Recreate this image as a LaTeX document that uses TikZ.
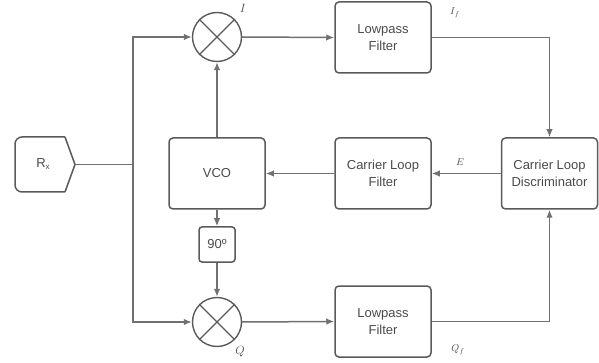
\documentclass[tikz,border=0pt]{standalone}
\usepackage{fontspec}
\setmainfont{Liberation Sans}
\usepackage{amsmath}
\usetikzlibrary{arrows.meta}
\definecolor{linegray}{HTML}{707070}
\definecolor{boxgray}{HTML}{5A5A5A}
\definecolor{txtgray}{HTML}{4A4A4A}

\begin{document}
\begin{tikzpicture}[x=1pt,y=-1pt,
		block/.style={draw=boxgray, line width=1.5pt, rounded corners=4pt, minimum width=96pt, minimum height=71pt, align=center, text=txtgray, font=\fontsize{13}{17}\selectfont, inner sep=0pt},
		mixer/.style={draw=boxgray, line width=1.4pt, circle, minimum size=49pt, inner sep=0pt},
		wire/.style={draw=linegray, line width=1.5pt},
		lbl/.style={text=txtgray}]
		\tikzset{>={Latex[length=8pt,width=6.5pt]}}
		\useasboundingbox (0,0) rectangle (599,363);
		% receiver input
		\draw[draw=boxgray, line width=1.5pt, rounded corners=7pt] (65,192) -- (15,192) -- (15,137) -- (65,137);
		\draw[draw=boxgray, line width=1.5pt, line join=round] (65,137) -- (75,164.5) -- (65,192);
		\node[text=txtgray, font=\fontsize{13}{15}\selectfont] (rx) at (43,164.5) {R\raisebox{-2pt}{\fontsize{8}{9}\selectfont x}};
		\coordinate (rxout) at (75,164.5);
		\coordinate (split) at (133,164.5);
		% mixers
		\node[mixer] (mixI) at (217,37) {};
		\node[mixer] (mixQ) at (217,322) {};
		\foreach \m in {mixI,mixQ}{
			\draw[draw=boxgray, line width=1.4pt] (\m.45) -- (\m.225) (\m.135) -- (\m.315);
		}
		\node[lbl, font=\large] at (243,8) {$I$};
		\node[lbl, font=\large] at (240,352) {$Q$};
		% blocks
		\node[block] (lpfI) at (383,37.5) {Lowpass\\Filter};
		\node[block] (lpfQ) at (383,321.5) {Lowpass\\Filter};
		\node[block] (disc) at (549.5,173.5) {Carrier Loop\\Discriminator};
		\node[block] (clf) at (383,173.5) {Carrier Loop\\Filter};
		\node[block] (vco) at (217,173.5) {VCO};
		\node[block, minimum width=36pt, minimum height=35pt, rounded corners=3pt] (shift) at (217,244.5) {90º};
		% connectors
		\draw[wire] (rxout) -- (split);
		\draw[wire,->] (split) |- (mixI.west);
		\draw[wire,->] (split) |- (mixQ.west);
		\draw[wire,->] (vco.north) -- (mixI.south);
		\draw[wire,->] (mixI.east) -- (lpfI.west);
		\draw[wire,->] (mixQ.east) -- (lpfQ.west);
		\draw[wire,->] (lpfI.east) -| (disc.north);
		\draw[wire,->] (lpfQ.east) -| (disc.south);
		\draw[wire,->] (disc.west) -- (clf.east);
		\draw[wire,->] (clf.west) -- (vco.east);
		\draw[wire,->] (vco.south) -- (shift.north);
		\draw[wire,->] (shift.south) -- (mixQ.north);
		\node[lbl] at (460,162) {$E$};
		\node[lbl] at (455,13) {$I_f$};
		\node[lbl] at (458,350) {$Q_f$};
	\end{tikzpicture}
\end{document}
